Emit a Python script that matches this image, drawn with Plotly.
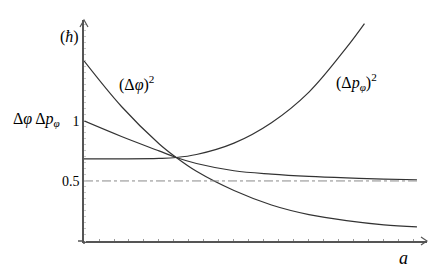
import plotly.graph_objects as go

# ---- data ----
a_phi = [0, 0.25, 0.5, 0.615, 0.75, 1.0, 1.25, 1.5, 1.75, 2.0, 2.22]
dphi2 = [1.50, 1.12, 0.81, 0.695, 0.58, 0.42, 0.30, 0.22, 0.17, 0.135, 0.117]

a_prod = [0, 0.25, 0.5, 0.615, 0.75, 1.0, 1.25, 1.5, 1.75, 2.0, 2.22]
prod = [1.0, 0.87, 0.75, 0.695, 0.645, 0.585, 0.557, 0.538, 0.525, 0.515, 0.51]

a_p = [0, 0.25, 0.5, 0.615, 0.75, 1.0, 1.25, 1.5, 1.75, 1.87]
dp2 = [0.683, 0.684, 0.688, 0.695, 0.72, 0.815, 0.985, 1.24, 1.61, 1.81]

ref_a = [0, 2.24]
ref_y = [0.5, 0.5]

ytick_vals = [0.5, 1]
ytick_text = ["0.5", "1"]

FONT = "Liberation Serif"
CURVE = "#333333"
AXIS = "#555555"

fig = go.Figure()
for xs, ys in [(a_phi, dphi2), (a_prod, prod), (a_p, dp2)]:
    fig.add_trace(go.Scatter(x=xs, y=ys, mode="lines",
                             line=dict(color=CURVE, width=1.2, shape="spline", smoothing=1.0),
                             hoverinfo="skip", showlegend=False))
fig.add_trace(go.Scatter(x=ref_a, y=ref_y, mode="lines",
                         line=dict(color="#8a8a8a", width=1, dash="dashdot"),
                         hoverinfo="skip", showlegend=False))

XMAX = 2.287
YMAX = 1.84

# the page body adds an 8px offset; size the figure to fit the window
fig.update_layout(
    width=428, height=263,
    margin=dict(l=76, r=9, t=12, b=30),
    paper_bgcolor="white", plot_bgcolor="white",
    font=dict(family=FONT, size=14, color="black"),
    xaxis=dict(range=[0, XMAX], showgrid=False, zeroline=False,
               showline=True, linecolor=AXIS, linewidth=1.5,
               tickmode="linear", tick0=0, dtick=0.1, ticks="inside", ticklen=2,
               tickcolor="#999999", showticklabels=False),
    yaxis=dict(range=[0, YMAX], showgrid=False, zeroline=False,
               showline=True, linecolor=AXIS, linewidth=1.5,
               tickmode="array", tickvals=ytick_vals, ticktext=ytick_text,
               ticks="", tickfont=dict(family=FONT, size=14, color="black"),
               minor=dict(tickmode="linear", tick0=0, dtick=0.05, ticks="inside",
                          ticklen=2, tickcolor="#c8c8c8")),
)

# axis overhangs and arrowheads (decoration)
fig.add_shape(type="line", xref="paper", yref="paper", x0=-6/343, x1=0, y0=0, y1=0,
              line=dict(color=AXIS, width=1.5))
fig.add_shape(type="line", xref="paper", yref="paper", x0=0, x1=0, y0=-3/221, y1=0,
              line=dict(color=AXIS, width=1.5))
fig.add_shape(type="path", xref="paper", yref="paper",
              path=f"M {1-6/343} {4/221} L 1 0 L {1-6/343} {-4/221}",
              line=dict(color=AXIS, width=1.2))
fig.add_shape(type="path", xref="paper", yref="paper",
              path=f"M {-4/343} {1-7/221} L 0 1 L {4/343} {1-7/221}",
              line=dict(color=AXIS, width=1.2))

# labels placed in paper coordinates (converted from data-space positions)
ann = [
    dict(x=-0.10, y=1.70, text="(<i>ħ</i>)", xanchor="center", size=16),
    dict(x=0.353, y=1.31, text="(Δ<i>φ</i>)<sup>2</sup>", xanchor="center", size=16),
    dict(x=-0.147, y=1.01, text="Δ<i>φ</i> Δ<i>p</i><sub><i>φ</i></sub>", xanchor="right", size=16),
    dict(x=1.82, y=1.32, text="(Δ<i>p</i><sub><i>φ</i></sub>)<sup>2</sup>", xanchor="center", size=16),
    dict(x=2.127, y=-0.142, text="<i>a</i>", xanchor="center", size=18),
]
for an in ann:
    fig.add_annotation(x=an["x"] / XMAX, y=an["y"] / YMAX, xref="paper", yref="paper",
                       text=an["text"], showarrow=False, xanchor=an["xanchor"],
                       yanchor="middle",
                       font=dict(family=FONT, size=an["size"], color="black"))

fig.write_html("out.html")
